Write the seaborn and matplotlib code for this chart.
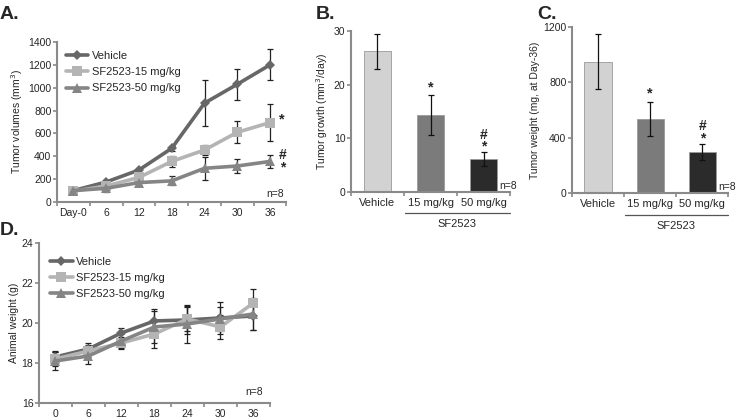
import numpy as np
import pandas as pd
import matplotlib
matplotlib.use("Agg")
import matplotlib.pyplot as plt
import seaborn as sns
from matplotlib.lines import Line2D

sns.set_theme(style="white")
plt.rcParams['font.family'] = ['Liberation Sans', 'DejaVu Sans']

# ---------------- data ----------------
days = ["Day-0", "6", "12", "18", "24", "30", "36"]
days_d = ["0", "6", "12", "18", "24", "30", "36"]
groups = ["Vehicle", "SF2523-15 mg/kg", "SF2523-50 mg/kg"]

vol_vehicle = [100, 175, 280, 470, 865, 1030, 1200]
vol_vehicle_err = [15, 20, 20, 20, 200, 135, 135]
vol_sf15 = [95, 140, 215, 355, 455, 610, 695]
vol_sf15_err = [15, 20, 20, 50, 45, 95, 160]
vol_sf50 = [100, 120, 170, 185, 295, 315, 355]
vol_sf50_err = [15, 35, 20, 40, 100, 65, 55]

bar_labels = ["Vehicle", "15 mg/kg", "50 mg/kg"]
growth = [26.2, 14.3, 6.1]
growth_err = [3.3, 3.7, 1.3]
weight = [950, 535, 300]
weight_err = [200, 125, 58]

bw_vehicle = [18.3, 18.7, 19.5, 20.1, 20.15, 20.25, 20.35]
bw_vehicle_err = [0.3, 0.3, 0.25, 0.6, 0.7, 0.8, 0.7]
bw_sf15 = [18.2, 18.6, 19.0, 19.45, 20.2, 19.8, 21.0]
bw_sf15_err = [0.35, 0.3, 0.3, 0.7, 0.6, 0.6, 0.7]
bw_sf50 = [18.1, 18.35, 19.1, 19.8, 19.95, 20.2, 20.45]
bw_sf50_err = [0.45, 0.4, 0.35, 0.8, 0.95, 0.6, 0.8]

line_colors = ["#676767", "#b4b4b4", "#858585"]
markers = ["D", "s", "^"]
msizes = [5.5, 7, 7.5]
bar_colors = ["#d2d2d2", "#7b7b7b", "#2b2b2b"]
spine_c = "#8a8a8a"

fig = plt.figure(figsize=(7.38, 4.18), dpi=100)


def style_axes(ax):
    sns.despine(ax=ax)
    for s in ["left", "bottom"]:
        ax.spines[s].set_color(spine_c)
        ax.spines[s].set_linewidth(1.5)
    ax.tick_params(axis="y", which="major", direction="out", length=3, width=1.2,
                   color=spine_c, labelsize=7.5, pad=1, left=True)


def cat_xaxis(ax, n, labels):
    ax.set_xlim(-0.5, n - 0.5)
    ax.set_xticks(np.arange(n + 1) - 0.5)
    ax.set_xticklabels([])
    ax.set_xticks(np.arange(n), minor=True)
    ax.set_xticklabels(labels, minor=True)
    ax.tick_params(axis="x", which="major", direction="out", length=3, width=1.2,
                   color=spine_c, bottom=True)
    ax.tick_params(axis="x", which="minor", length=0, labelsize=7.5, pad=4)


def line_panel(ax, series, errs, xlabels, leg_anchor):
    pos = np.arange(len(xlabels))
    rows = []
    for g, vals in zip(groups, series):
        for p, v in zip(pos, vals):
            rows.append({"pos": p, "val": v, "group": g})
    df = pd.DataFrame(rows)
    for i, (g, vals, e) in enumerate(zip(groups, series, errs)):
        ax.errorbar(pos, vals, yerr=e, fmt="none", ecolor="#222222", elinewidth=0.9,
                    capsize=2, capthick=0.9, zorder=1)
    sns.lineplot(data=df, x="pos", y="val", hue="group", style="group",
                 palette=line_colors, markers=markers, dashes=False, linewidth=2.6,
                 markeredgewidth=0, ax=ax, legend=False, zorder=3)
    for i, l in enumerate(ax.lines[-3:]):
        l.set_markersize(msizes[i])
    handles = [Line2D([], [], color=c, marker=m, markersize=ms, lw=2.6, markeredgewidth=0)
               for c, m, ms in zip(line_colors, markers, msizes)]
    ax.legend(handles, groups, loc="upper left", frameon=False, fontsize=8,
              handlelength=2.0, handletextpad=0.3, labelspacing=0.55,
              borderaxespad=0.0, bbox_to_anchor=leg_anchor)
    ax.set_xlabel("")
    cat_xaxis(ax, len(xlabels), xlabels)
    style_axes(ax)


# ---------------- Panel A ----------------
axA = fig.add_axes([0.0772, 0.5167, 0.311, 0.383])
line_panel(axA, [vol_vehicle, vol_sf15, vol_sf50],
           [vol_vehicle_err, vol_sf15_err, vol_sf50_err], days, (0.02, 0.97))
axA.set_ylim(0, 1400)
axA.set_yticks(np.arange(0, 1401, 200))
axA.set_ylabel("Tumor volumes (mm$^3$)", fontsize=7.5, labelpad=2)
axA.text(6.27, vol_sf15[-1] + 30, "*", fontsize=10.5, ha="left", va="center", fontweight="bold")
axA.text(6.27, vol_sf50[-1] - 110, "#\n*", fontsize=10, ha="left", va="bottom",
         linespacing=0.85, multialignment="center", fontweight="bold")
axA.text(0.99, 0.02, "n=8", transform=axA.transAxes, ha="right", va="bottom", fontsize=7.5)


def bar_panel(ax, vals, errs):
    df = pd.DataFrame({"grp": bar_labels, "val": vals})
    sns.barplot(data=df, x="grp", y="val", hue="grp", palette=bar_colors, width=0.52,
                edgecolor="#9a9a9a", linewidth=0.6, legend=False, ax=ax, errorbar=None)
    ax.errorbar(np.arange(len(vals)), vals, yerr=errs, fmt="none", ecolor="#111111",
                elinewidth=0.9, capsize=2.5, capthick=0.9)
    ax.set_xlabel("")
    cat_xaxis(ax, len(vals), bar_labels)
    ax.tick_params(axis="x", which="minor", labelsize=8)
    style_axes(ax)
    tr = ax.get_xaxis_transform()
    ax.plot([0.52, 2.5], [-0.13, -0.13], transform=tr, color="#555555", lw=0.9, clip_on=False)
    ax.text(1.5, -0.2, "SF2523", transform=tr, ha="center", va="center", fontsize=8)
    ax.text(2.3, 0.005, "n=8", transform=tr, ha="left", va="bottom", fontsize=7.5)


def marks(ax, vals, errs, unit):
    top1 = vals[1] + errs[1]
    top2 = vals[2] + errs[2]
    ax.text(1, top1 + 0.2 * unit, "*", ha="center", va="bottom", fontsize=10.5, fontweight="bold")
    ax.text(2, top2 - 0.3 * unit, "#\n*", ha="center", va="bottom", fontsize=10,
            linespacing=0.85, multialignment="center", fontweight="bold")


# ---------------- Panel B ----------------
axB = fig.add_axes([0.4756, 0.5407, 0.2155, 0.385])
bar_panel(axB, growth, growth_err)
axB.set_ylim(0, 30)
axB.set_yticks([0, 10, 20, 30])
axB.set_ylabel("Tumor growth (mm$^3$/day)", fontsize=7.5, labelpad=3)
marks(axB, growth, growth_err, 1.0)

# ---------------- Panel C ----------------
axC = fig.add_axes([0.775, 0.538, 0.212, 0.397])
bar_panel(axC, weight, weight_err)
axC.set_ylim(0, 1200)
axC.set_yticks([0, 400, 800, 1200])
axC.set_ylabel("Tumor weight (mg, at Day-36)", fontsize=7.5, labelpad=2)
marks(axC, weight, weight_err, 40.0)

# ---------------- Panel D ----------------
axD = fig.add_axes([0.0528, 0.0359, 0.313, 0.383])
line_panel(axD, [bw_vehicle, bw_sf15, bw_sf50],
           [bw_vehicle_err, bw_sf15_err, bw_sf50_err], days_d, (0.03, 0.94))
axD.set_ylim(16, 24)
axD.set_yticks([16, 18, 20, 22, 24])
axD.set_ylabel("Animal weight (g)", fontsize=7.5, labelpad=2)
axD.text(0.97, 0.04, "n=8", transform=axD.transAxes, ha="right", va="bottom", fontsize=7.5)

# panel letters
for lab, x, y in [("A.", 0.0, 0.985), ("B.", 0.428, 0.985), ("C.", 0.728, 0.985), ("D.", 0.0, 0.47)]:
    fig.text(x, y, lab, fontsize=14, fontweight="bold", ha="left", va="top")

fig.savefig("out.png", dpi=100)
